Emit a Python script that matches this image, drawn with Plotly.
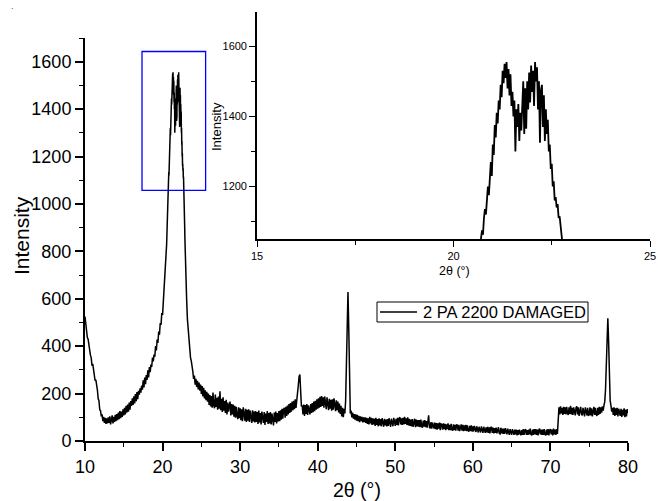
import numpy as np
import plotly.graph_objects as go

# ---- data (2θ in degrees, intensity in counts) ----
# segment A: 10.0 .. 20.4, step 0.1
seg_a_start, seg_a_step = 10.0, 0.1
seg_a_vals = [
    525, 488, 472, 436, 430, 398, 385, 362, 352, 318,
    325, 292, 280, 255, 258, 218, 215, 178, 170, 132,
    128, 104, 112, 84, 102, 76, 98, 72, 96, 74,
    100, 76, 104, 70, 96, 108, 74, 102, 80, 110,
    84, 114, 88, 120, 92, 126, 96, 124, 102, 134,
    108, 140, 112, 148, 120, 154, 124, 162, 132, 168,
    148, 180, 152, 188, 158, 198, 168, 206, 176, 212,
    196, 222, 204, 234, 216, 256, 226, 268, 240, 278,
    258, 298, 268, 312, 290, 322, 312, 352, 336, 364,
    356, 400, 382, 428, 414, 462, 448, 498, 490, 540,
    532, 588, 610, 690, 738,
]
# segment B: 20.5 .. 23.0, step 0.025 (main peak)
seg_b_start, seg_b_step = 20.5, 0.025
seg_b_vals = [
    790, 830, 860, 900, 935, 965, 1000, 1030, 1052, 1075,
    1062, 1110, 1135, 1120, 1170, 1200, 1175, 1245, 1270, 1230,
    1320, 1290, 1375, 1340, 1410, 1380, 1445, 1420, 1490, 1455,
    1530, 1495, 1550, 1510, 1555, 1480, 1535, 1460, 1520, 1430,
    1470, 1400, 1445, 1300, 1420, 1370, 1435, 1330, 1410, 1360,
    1470, 1500, 1350, 1480, 1365, 1500, 1420, 1525, 1440, 1545,
    1470, 1530, 1430, 1555, 1500, 1540, 1420, 1500, 1325, 1475,
    1490, 1370, 1460, 1330, 1420, 1350, 1390, 1300, 1320, 1250,
    1265, 1200, 1215, 1160, 1170, 1140, 1150, 1110, 1115, 1080,
    1060, 1030, 990, 950, 905, 860, 815, 775, 735, 695,
    655,
]
# segment C: 23.1 .. 80.0, step 0.1
seg_c_start, seg_c_step = 23.1, 0.1
seg_c_vals = [
    600, 515, 470, 410, 395, 352, 338, 300, 294,
    262, 276, 238, 262, 228, 254, 218, 246, 212, 238,
    198, 232, 188, 224, 180, 214, 172, 208, 166, 200,
    152, 194, 146, 190, 140, 204, 150, 138, 196, 144,
    182, 132, 188, 136, 210, 130, 178, 122, 184, 128,
    168, 118, 174, 112, 162, 124, 150, 166, 108, 156,
    112, 154, 102, 148, 98, 144, 106, 92, 142, 96,
    138, 88, 134, 84, 142, 92, 86, 136, 80, 132,
    86, 134, 80, 128, 90, 76, 130, 82, 124, 78,
    126, 80, 122, 72, 128, 78, 118, 70, 124, 82,
    76, 122, 68, 116, 80, 126, 72, 118, 74, 122,
    70, 116, 78, 66, 120, 80, 124, 74, 118, 82,
    126, 84, 130, 90, 136, 94, 134, 140, 98, 144,
    106, 150, 112, 156, 118, 160, 124, 166, 130, 170,
    134, 176, 140, 184, 190, 235, 272, 280, 210, 146,
    150, 112, 154, 106, 152, 114, 156, 110, 150, 116,
    112, 156, 118, 160, 122, 166, 126, 170, 132, 176,
    136, 180, 140, 186, 144, 190, 148, 184, 140, 188,
    146, 134, 184, 140, 130, 178, 136, 174, 128, 176,
    132, 180, 136, 126, 172, 130, 166, 120, 158, 114,
    148, 104, 140, 100, 136, 116, 170, 330, 520, 628,
    480, 250, 116, 128, 100, 120, 94, 114, 90, 112,
    86, 110, 84, 106, 80, 104, 84, 102, 78, 100,
    80, 100, 76, 98, 72, 96, 70, 102, 74, 98,
    68, 96, 70, 94, 64, 98, 68, 92, 62, 96,
    66, 92, 62, 96, 68, 60, 94, 66, 90, 62,
    92, 64, 96, 66, 60, 94, 68, 62, 98, 70,
    64, 94, 68, 98, 66, 96, 100, 70, 96, 68,
    98, 70, 102, 72, 96, 68, 100, 66, 94, 64,
    90, 62, 92, 60, 88, 94, 58, 90, 62, 88,
    60, 88, 58, 90, 62, 56, 86, 60, 88, 58,
    84, 56, 82, 108, 58, 54, 80, 52, 78, 54,
    52, 78, 50, 76, 48, 74, 52, 78, 46, 72,
    70, 48, 74, 50, 72, 46, 70, 50, 74, 46,
    68, 46, 72, 48, 44, 70, 46, 68, 44, 70,
    66, 44, 68, 42, 66, 70, 44, 68, 42, 66,
    44, 68, 42, 66, 44, 40, 64, 42, 66, 40,
    62, 40, 64, 42, 38, 62, 40, 36, 60, 40,
    36, 62, 40, 34, 60, 38, 34, 58, 36, 60,
    34, 58, 32, 56, 60, 34, 56, 32, 54, 34,
    56, 32, 54, 58, 32, 30, 56, 32, 52, 30,
    52, 30, 54, 32, 28, 52, 30, 26, 50, 30,
    26, 50, 28, 26, 48, 28, 48, 24, 46, 26,
    48, 28, 24, 46, 26, 50, 26, 46, 50, 26,
    46, 26, 48, 28, 52, 28, 24, 48, 26, 50,
    28, 50, 26, 48, 24, 46, 52, 28, 48, 26,
    48, 26, 50, 28, 24, 48, 26, 50, 24, 46,
    50, 28, 48, 24, 52, 28, 48, 26, 50, 30,
    118, 142, 112, 146, 116, 140, 110, 144, 114, 142,
    112, 144, 118, 110, 142, 114, 148, 112, 140, 110,
    142, 114, 108, 140, 146, 112, 142, 106, 138, 144,
    114, 108, 140, 112, 104, 142, 114, 108, 140, 106,
    112, 142, 108, 138, 104, 136, 144, 110, 140, 112,
    106, 140, 110, 144, 114, 142, 120, 146, 128, 150,
    165, 215, 330, 470, 518, 420, 260, 170, 150, 124,
    140, 110, 142, 106, 138, 110, 140, 104, 136, 108,
    106, 136, 102, 132, 108, 138, 100, 132, 104, 134,
    118,
]
series_name = "2 PA 2200 DAMAGED"
zoom_box = dict(x0=17.35, x1=25.55, y0=1057, y1=1643)

def seg_x(start, step, vals):
    return np.round(start + step * np.arange(len(vals)), 4)

x = np.concatenate([seg_x(seg_a_start, seg_a_step, seg_a_vals),
                    seg_x(seg_b_start, seg_b_step, seg_b_vals),
                    seg_x(seg_c_start, seg_c_step, seg_c_vals)])
y = np.array(seg_a_vals + seg_b_vals + seg_c_vals, dtype=float)

FONT = "Arial, Liberation Sans, Helvetica, sans-serif"
W, H = 658, 501

def px_x(p):
    return p / W

def px_y(p):
    return 1 - p / H

fig = go.Figure()
fig.add_trace(go.Scatter(x=x, y=y, mode="lines", name=series_name,
                         line=dict(color="black", width=1.5),
                         xaxis="x", yaxis="y", showlegend=False))
fig.add_trace(go.Scatter(x=x, y=y, mode="lines", name=series_name,
                         line=dict(color="black", width=1.8),
                         xaxis="x2", yaxis="y2", showlegend=False))

axis_common = dict(showgrid=False, zeroline=False, showline=True,
                   linecolor="black", ticks="outside", tickcolor="black",
                   mirror=False, color="black", automargin=False)

# legend box (drawn in paper space)
leg_l, leg_r, leg_t, leg_b = 377, 588, 302, 322
leg_mid = (leg_t + leg_b) / 2

fig.update_layout(
    width=W, height=H,
    margin=dict(l=0, r=0, t=0, b=0, pad=0, autoexpand=False),
    paper_bgcolor="white", plot_bgcolor="rgba(0,0,0,0)",
    font=dict(family=FONT, color="black"),
    showlegend=False,
    xaxis=dict(**axis_common, domain=[px_x(85), px_x(628)], range=[10, 80],
               tick0=10, dtick=10, ticklen=8, tickwidth=1.6, linewidth=2,
               tickfont=dict(size=18),
               minor=dict(dtick=5, tick0=10, ticklen=4, tickwidth=1.4,
                          ticks="outside", tickcolor="black"),
               anchor="y"),
    yaxis=dict(**axis_common, domain=[px_y(441), px_y(38)], range=[0, 1700],
               tick0=0, dtick=200, ticklen=8, tickwidth=1.6, linewidth=2,
               tickfont=dict(size=18),
               minor=dict(dtick=100, tick0=0, ticklen=4, tickwidth=1.4,
                          ticks="outside", tickcolor="black"),
               anchor="x"),
    xaxis2=dict(**axis_common, domain=[px_x(257), px_x(650)], range=[15, 25],
                tick0=15, dtick=5, ticklen=6, tickwidth=1.2, linewidth=1.6,
                tickfont=dict(size=11),
                minor=dict(dtick=2.5, tick0=15, ticklen=4, tickwidth=1.1,
                           ticks="outside", tickcolor="black"),
                anchor="y2"),
    yaxis2=dict(**axis_common, domain=[px_y(239), px_y(12)], range=[1050, 1698],
                tick0=1000, dtick=200, ticklen=6, tickwidth=1.2, linewidth=1.6,
                tickfont=dict(size=11),
                minor=dict(dtick=100, tick0=1000, ticklen=4, tickwidth=1.1,
                           ticks="outside", tickcolor="black"),
                anchor="x2"),
    shapes=[
        dict(type="rect", xref="x", yref="y", **zoom_box,
             line=dict(color="#0000FF", width=1.3),
             fillcolor="rgba(0,0,0,0)"),
        dict(type="rect", xref="paper", yref="paper",
             x0=px_x(leg_l), x1=px_x(leg_r), y0=px_y(leg_b), y1=px_y(leg_t),
             line=dict(color="black", width=1), fillcolor="white"),
        dict(type="line", xref="paper", yref="paper",
             x0=px_x(380), x1=px_x(417), y0=px_y(leg_mid), y1=px_y(leg_mid),
             line=dict(color="black", width=1.3)),
    ],
    annotations=[
        dict(text=series_name, xref="paper", yref="paper",
             x=px_x(420.5), y=px_y(leg_mid), xanchor="left", yanchor="middle",
             showarrow=False, font=dict(size=16.5)),
        dict(text="2θ (°)", xref="paper", yref="paper",
             x=px_x(357), y=px_y(490), xanchor="center", yanchor="middle",
             showarrow=False, font=dict(size=19.5)),
        dict(text="Intensity", xref="paper", yref="paper",
             x=px_x(21), y=px_y(236), xanchor="center", yanchor="middle",
             textangle=-90, showarrow=False, font=dict(size=21)),
        dict(text="2θ (°)", xref="paper", yref="paper",
             x=px_x(454), y=px_y(271), xanchor="center", yanchor="middle",
             showarrow=False, font=dict(size=12.5)),
        dict(text="Intensity", xref="paper", yref="paper",
             x=px_x(216), y=px_y(127), xanchor="center", yanchor="middle",
             textangle=-90, showarrow=False, font=dict(size=13)),
        dict(text=".", xref="paper", yref="paper",
             x=px_x(12), y=px_y(6), xanchor="center", yanchor="middle",
             showarrow=False, font=dict(size=9, color="#555555")),
    ],
)

fig.write_html("out.html")
